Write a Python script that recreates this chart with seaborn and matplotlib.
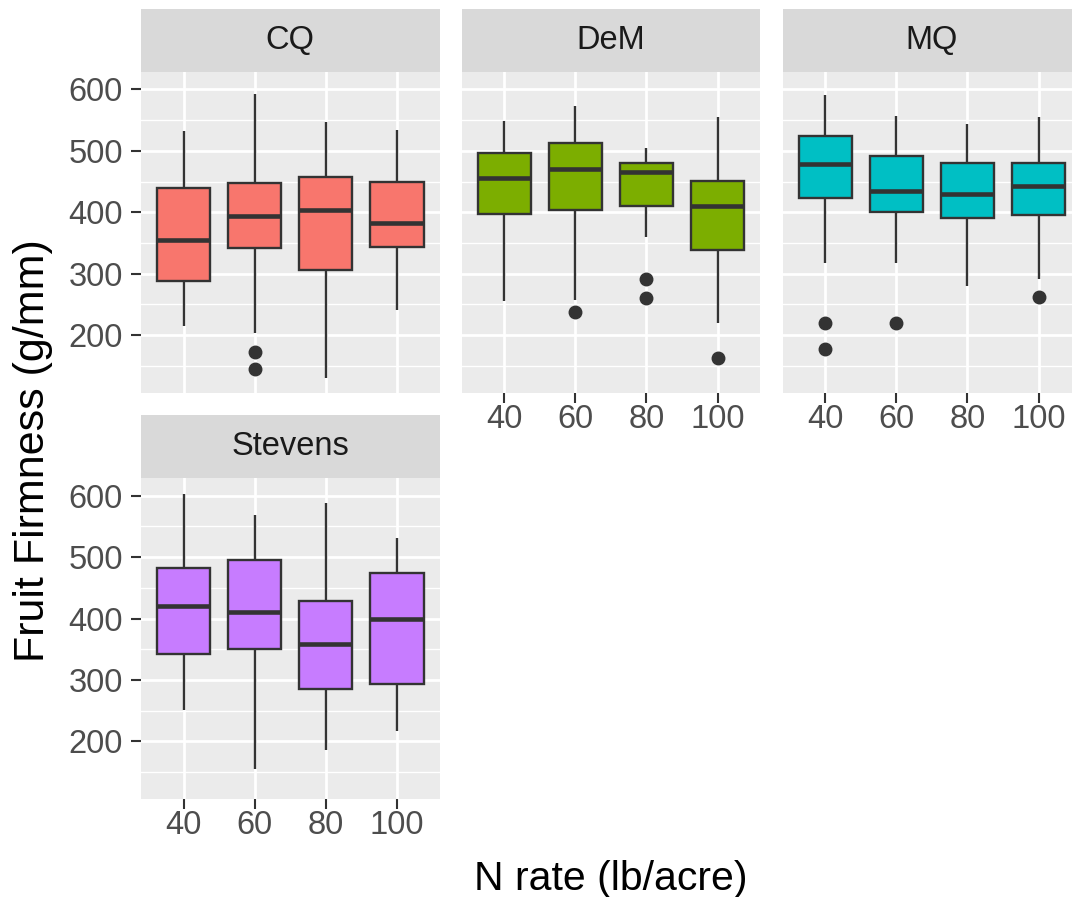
import matplotlib
matplotlib.use("Agg")
import matplotlib.pyplot as plt
from matplotlib.patches import Rectangle
from matplotlib.ticker import FixedLocator
import pandas as pd
import seaborn as sns

# categories
cultivars = ["CQ", "DeM", "MQ", "Stevens"]
n_rates = ["40", "60", "80", "100"]
fills = ["#F8766D", "#7CAE00", "#00BFC4", "#C77CFF"]

# box summaries, order: CQ 40..100, DeM 40..100, MQ 40..100, Stevens 40..100
whisker_low = [214, 204, 130, 240, 255, 257, 360, 219, 318, 318, 280, 292, 251, 155, 186, 216]
q1 = [288, 341, 306, 343, 397, 404, 410, 338, 424, 400, 391, 395, 342, 350, 285, 294]
median = [355, 394, 404, 382, 455, 470, 466, 410, 478, 434, 429, 443, 421, 410, 358, 399]
q3 = [439, 447, 457, 450, 496, 513, 480, 451, 525, 491, 481, 481, 483, 496, 429, 474]
whisker_high = [532, 592, 547, 534, 548, 573, 504, 556, 591, 557, 544, 555, 603, 569, 588, 531]
outliers = [[], [172, 145], [], [], [], [237], [292, 261], [163],
            [220, 178], [220], [], [262], [], [], [], []]

# rebuild 13 readings per box so the quartiles land on the values above
rows = []
i = 0
for cv in cultivars:
    for nr in n_rates:
        low = outliers[i] + [whisker_low[i]] * (3 - len(outliers[i]))
        vals = low + [q1[i]] * 2 + [median[i]] * 3 + [q3[i]] * 3 + [whisker_high[i]] * 2
        for v in vals:
            rows.append({"cultivar": cv, "nrate": nr, "firmness": v})
        i += 1
df = pd.DataFrame(rows)

plt.rcParams["font.family"] = ["Liberation Sans", "DejaVu Sans"]

W, H = 1072, 897
fig = plt.figure(figsize=(W / 100, H / 100), dpi=100)

pw = 298.5 / W
ph = 321 / H
lefts = [141 / W, 461.7 / W, 782.7 / W, 141 / W]
bottoms = [1 - 392.7 / H] * 3 + [1 - 799 / H]
strip_frac = 63 / 321

for k, cv in enumerate(cultivars):
    ax = fig.add_axes([lefts[k], bottoms[k], pw, ph])
    sub = df[df["cultivar"] == cv]
    sns.boxplot(data=sub, x="nrate", y="firmness", order=n_rates, color=fills[k],
                saturation=1, width=0.75, linecolor="#333333", linewidth=1.7,
                showcaps=False,
                medianprops=dict(linewidth=3.3, color="#333333"),
                flierprops=dict(marker="o", markersize=9, markerfacecolor="#333333",
                                markeredgecolor="#333333"),
                ax=ax)
    ax.set_facecolor("#EBEBEB")
    ax.set_axisbelow(True)
    for s in ax.spines.values():
        s.set_visible(False)
    ax.set_xlim(-0.6, 3.6)
    ax.set_ylim(106, 629)
    ax.set_yticks([200, 300, 400, 500, 600])
    ax.yaxis.set_minor_locator(FixedLocator([150, 250, 350, 450, 550]))
    ax.grid(which="major", color="white", linewidth=2.0)
    ax.grid(which="minor", axis="y", color="white", linewidth=1.0)
    ax.set_xlabel("")
    ax.set_ylabel("")
    ax.tick_params(which="minor", length=0)
    ax.tick_params(axis="both", which="major", colors="#333333", labelcolor="#4D4D4D",
                   labelsize=23.5, length=7, width=1.5)
    ax.tick_params(axis="y", pad=6)
    ax.tick_params(axis="x", pad=1)
    if k == 0:
        ax.tick_params(axis="x", length=0, labelbottom=False)
    if k in (1, 2):
        ax.tick_params(axis="y", length=0, labelleft=False)

    # facet strip
    ax.add_patch(Rectangle((0, 1), 1, strip_frac, transform=ax.transAxes,
                           facecolor="#D9D9D9", edgecolor="none", clip_on=False))
    ax.text(0.5, 1 + strip_frac / 2, cv, transform=ax.transAxes, ha="center",
            va="center", fontsize=23.5, color="#1A1A1A")

fig.text(611 / W, 7 / H, "N rate (lb/acre)", ha="center", va="baseline",
         fontsize=29.5, color="black")
fig.text(33 / W, 0.498, "Fruit Firmness (g/mm)", ha="center", va="center",
         rotation=90, fontsize=31, color="black")

fig.savefig("out.png", dpi=100)
